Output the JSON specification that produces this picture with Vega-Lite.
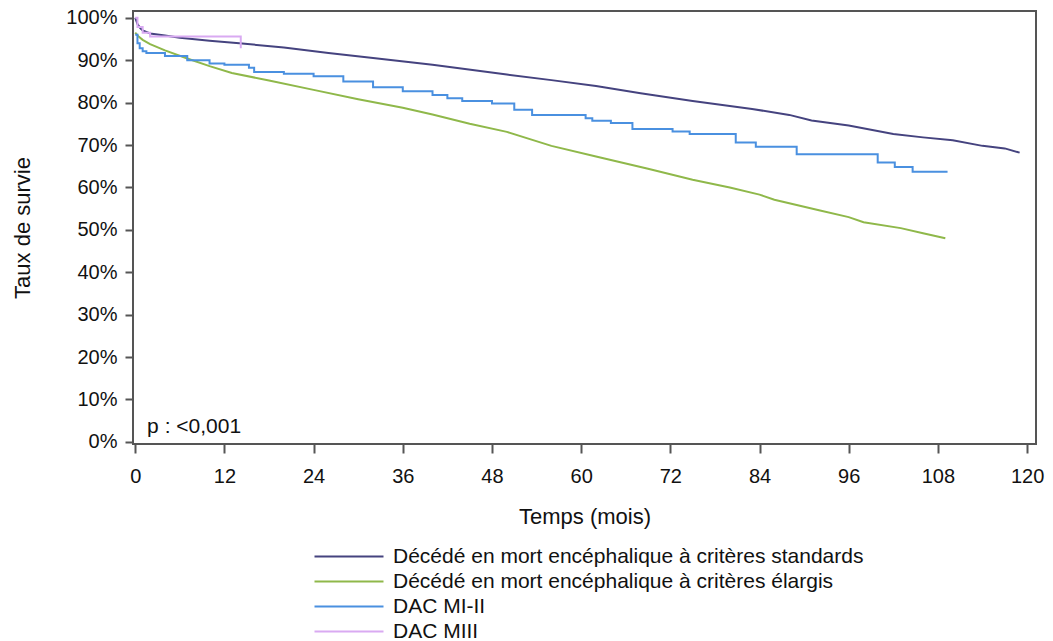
{
  "$schema": "https://vega.github.io/schema/vega-lite/v6.json",
  "width": 903,
  "height": 433,
  "autosize": "none",
  "padding": {"left": 133, "top": 11, "right": 17, "bottom": 197},
  "background": "white",
  "config": {
    "font": "Liberation Sans",
    "view": {"stroke": "#555555", "strokeWidth": 2},
    "axis": {
      "domain": false,
      "grid": false,
      "tickColor": "#555555",
      "tickWidth": 2,
      "tickSize": 9,
      "labelFontSize": 20,
      "labelColor": "#111111",
      "titleFontSize": 22,
      "titleFontWeight": "normal",
      "titleColor": "#111111"
    }
  },
  "datasets": {
    "smooth": [
      {"g": "Décédé en mort encéphalique à critères standards", "t": 0, "s": 1.0},
      {"g": "Décédé en mort encéphalique à critères standards", "t": 0.3, "s": 0.985},
      {"g": "Décédé en mort encéphalique à critères standards", "t": 0.7, "s": 0.975},
      {"g": "Décédé en mort encéphalique à critères standards", "t": 1, "s": 0.97},
      {"g": "Décédé en mort encéphalique à critères standards", "t": 2, "s": 0.963},
      {"g": "Décédé en mort encéphalique à critères standards", "t": 4, "s": 0.958},
      {"g": "Décédé en mort encéphalique à critères standards", "t": 6, "s": 0.953},
      {"g": "Décédé en mort encéphalique à critères standards", "t": 10, "s": 0.946},
      {"g": "Décédé en mort encéphalique à critères standards", "t": 14, "s": 0.94},
      {"g": "Décédé en mort encéphalique à critères standards", "t": 20, "s": 0.93},
      {"g": "Décédé en mort encéphalique à critères standards", "t": 26, "s": 0.917},
      {"g": "Décédé en mort encéphalique à critères standards", "t": 32, "s": 0.905},
      {"g": "Décédé en mort encéphalique à critères standards", "t": 40, "s": 0.889},
      {"g": "Décédé en mort encéphalique à critères standards", "t": 50, "s": 0.866},
      {"g": "Décédé en mort encéphalique à critères standards", "t": 56, "s": 0.853},
      {"g": "Décédé en mort encéphalique à critères standards", "t": 62, "s": 0.839},
      {"g": "Décédé en mort encéphalique à critères standards", "t": 68, "s": 0.822},
      {"g": "Décédé en mort encéphalique à critères standards", "t": 75, "s": 0.804},
      {"g": "Décédé en mort encéphalique à critères standards", "t": 83, "s": 0.785},
      {"g": "Décédé en mort encéphalique à critères standards", "t": 88, "s": 0.771},
      {"g": "Décédé en mort encéphalique à critères standards", "t": 91, "s": 0.758},
      {"g": "Décédé en mort encéphalique à critères standards", "t": 96, "s": 0.746},
      {"g": "Décédé en mort encéphalique à critères standards", "t": 102, "s": 0.726},
      {"g": "Décédé en mort encéphalique à critères standards", "t": 106, "s": 0.718},
      {"g": "Décédé en mort encéphalique à critères standards", "t": 110, "s": 0.711},
      {"g": "Décédé en mort encéphalique à critères standards", "t": 114, "s": 0.698},
      {"g": "Décédé en mort encéphalique à critères standards", "t": 117, "s": 0.692},
      {"g": "Décédé en mort encéphalique à critères standards", "t": 119, "s": 0.682},
      {"g": "Décédé en mort encéphalique à critères élargis", "t": 0, "s": 0.965},
      {"g": "Décédé en mort encéphalique à critères élargis", "t": 0.5, "s": 0.955},
      {"g": "Décédé en mort encéphalique à critères élargis", "t": 1, "s": 0.948},
      {"g": "Décédé en mort encéphalique à critères élargis", "t": 2, "s": 0.938},
      {"g": "Décédé en mort encéphalique à critères élargis", "t": 4, "s": 0.923},
      {"g": "Décédé en mort encéphalique à critères élargis", "t": 7, "s": 0.904},
      {"g": "Décédé en mort encéphalique à critères élargis", "t": 10, "s": 0.886},
      {"g": "Décédé en mort encéphalique à critères élargis", "t": 13, "s": 0.87},
      {"g": "Décédé en mort encéphalique à critères élargis", "t": 18, "s": 0.852},
      {"g": "Décédé en mort encéphalique à critères élargis", "t": 24, "s": 0.83},
      {"g": "Décédé en mort encéphalique à critères élargis", "t": 30, "s": 0.808},
      {"g": "Décédé en mort encéphalique à critères élargis", "t": 36, "s": 0.788},
      {"g": "Décédé en mort encéphalique à critères élargis", "t": 40, "s": 0.772},
      {"g": "Décédé en mort encéphalique à critères élargis", "t": 45, "s": 0.75},
      {"g": "Décédé en mort encéphalique à critères élargis", "t": 50, "s": 0.731},
      {"g": "Décédé en mort encéphalique à critères élargis", "t": 56, "s": 0.698},
      {"g": "Décédé en mort encéphalique à critères élargis", "t": 62, "s": 0.673},
      {"g": "Décédé en mort encéphalique à critères élargis", "t": 69, "s": 0.644},
      {"g": "Décédé en mort encéphalique à critères élargis", "t": 75, "s": 0.618},
      {"g": "Décédé en mort encéphalique à critères élargis", "t": 80, "s": 0.6},
      {"g": "Décédé en mort encéphalique à critères élargis", "t": 84, "s": 0.583},
      {"g": "Décédé en mort encéphalique à critères élargis", "t": 86, "s": 0.571},
      {"g": "Décédé en mort encéphalique à critères élargis", "t": 92, "s": 0.546},
      {"g": "Décédé en mort encéphalique à critères élargis", "t": 96, "s": 0.53},
      {"g": "Décédé en mort encéphalique à critères élargis", "t": 98, "s": 0.518},
      {"g": "Décédé en mort encéphalique à critères élargis", "t": 103, "s": 0.504},
      {"g": "Décédé en mort encéphalique à critères élargis", "t": 106, "s": 0.492},
      {"g": "Décédé en mort encéphalique à critères élargis", "t": 109, "s": 0.48}
    ],
    "steps": [
      {"g": "DAC MI-II", "t": 0, "s": 0.96},
      {"g": "DAC MI-II", "t": 0.3, "s": 0.94},
      {"g": "DAC MI-II", "t": 0.6, "s": 0.928},
      {"g": "DAC MI-II", "t": 1, "s": 0.921},
      {"g": "DAC MI-II", "t": 1.5, "s": 0.917},
      {"g": "DAC MI-II", "t": 4, "s": 0.91},
      {"g": "DAC MI-II", "t": 7, "s": 0.9},
      {"g": "DAC MI-II", "t": 10, "s": 0.892},
      {"g": "DAC MI-II", "t": 12, "s": 0.889},
      {"g": "DAC MI-II", "t": 15.3, "s": 0.882},
      {"g": "DAC MI-II", "t": 16, "s": 0.872},
      {"g": "DAC MI-II", "t": 20, "s": 0.868},
      {"g": "DAC MI-II", "t": 24, "s": 0.862},
      {"g": "DAC MI-II", "t": 28, "s": 0.85},
      {"g": "DAC MI-II", "t": 32, "s": 0.836},
      {"g": "DAC MI-II", "t": 36, "s": 0.827},
      {"g": "DAC MI-II", "t": 40, "s": 0.818},
      {"g": "DAC MI-II", "t": 42, "s": 0.81},
      {"g": "DAC MI-II", "t": 44, "s": 0.804},
      {"g": "DAC MI-II", "t": 48, "s": 0.798},
      {"g": "DAC MI-II", "t": 51, "s": 0.783},
      {"g": "DAC MI-II", "t": 53.4, "s": 0.771},
      {"g": "DAC MI-II", "t": 60.6, "s": 0.763},
      {"g": "DAC MI-II", "t": 61.5, "s": 0.757},
      {"g": "DAC MI-II", "t": 64, "s": 0.752},
      {"g": "DAC MI-II", "t": 66.9, "s": 0.738},
      {"g": "DAC MI-II", "t": 72.3, "s": 0.732},
      {"g": "DAC MI-II", "t": 74.6, "s": 0.726},
      {"g": "DAC MI-II", "t": 80.8, "s": 0.706},
      {"g": "DAC MI-II", "t": 83.5, "s": 0.696},
      {"g": "DAC MI-II", "t": 89, "s": 0.678},
      {"g": "DAC MI-II", "t": 99.9, "s": 0.659},
      {"g": "DAC MI-II", "t": 102.2, "s": 0.648},
      {"g": "DAC MI-II", "t": 104.6, "s": 0.637},
      {"g": "DAC MI-II", "t": 109.3, "s": 0.637},
      {"g": "DAC MIII", "t": 0, "s": 1.0},
      {"g": "DAC MIII", "t": 0.3, "s": 0.978},
      {"g": "DAC MIII", "t": 1, "s": 0.965},
      {"g": "DAC MIII", "t": 2, "s": 0.956},
      {"g": "DAC MIII", "t": 14.2, "s": 0.928}
    ],
    "note": [{"t": 1.6, "s": 0.036, "label": "p : <0,001"}]
  },
  "encoding": {
    "x": {
      "field": "t",
      "type": "quantitative",
      "title": "Temps (mois)",
      "scale": {"domain": [-0.3, 121.2], "nice": false, "zero": false},
      "axis": {"values": [0, 12, 24, 36, 48, 60, 72, 84, 96, 108, 120], "labelPadding": 13, "titlePadding": 20}
    },
    "y": {
      "field": "s",
      "type": "quantitative",
      "title": "Taux de survie",
      "scale": {"domain": [-0.005, 1.016], "nice": false, "zero": false},
      "axis": {"values": [0, 0.1, 0.2, 0.3, 0.4, 0.5, 0.6, 0.7, 0.8, 0.9, 1], "format": ".0%", "tickSize": 8, "labelPadding": 8, "titlePadding": 31}
    },
    "color": {
      "field": "g",
      "type": "nominal",
      "title": null,
      "scale": {
        "domain": ["Décédé en mort encéphalique à critères standards", "Décédé en mort encéphalique à critères élargis", "DAC MI-II", "DAC MIII"],
        "range": ["#45437f", "#8fb84a", "#4a90e0", "#d9aaf2"]
      },
      "legend": {
        "orient": "none",
        "legendX": 180,
        "legendY": 535,
        "direction": "vertical",
        "symbolType": "stroke",
        "symbolSize": 4761,
        "symbolStrokeWidth": 2.2,
        "clipHeight": 21,
        "labelFontSize": 21,
        "labelColor": "#111111",
        "labelOffset": 8,
        "rowPadding": 3,
        "labelLimit": 700,
        "padding": 0
      }
    }
  },
  "layer": [
    {"data": {"name": "smooth"}, "mark": {"type": "line", "strokeWidth": 2}},
    {"data": {"name": "steps"}, "mark": {"type": "line", "strokeWidth": 2, "interpolate": "step-after"}},
    {
      "data": {"name": "note"},
      "mark": {"type": "text", "align": "left", "baseline": "middle", "fontSize": 21, "color": "#111111"},
      "encoding": {"text": {"field": "label"}, "color": {"value": "#111111"}}
    }
  ]
}
